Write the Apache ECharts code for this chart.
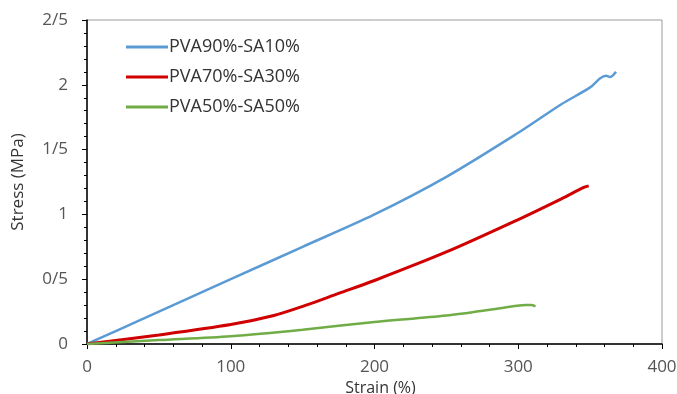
<!DOCTYPE html>
<html>
<head>
<meta charset="utf-8">
<script src="https://cdn.jsdelivr.net/npm/echarts@6/dist/echarts.min.js"></script>
<style>
  html, body { margin: 0; padding: 0; background: #fff; }
  #chart { width: 677px; height: 394px; }
</style>
</head>
<body>
<div id="chart"></div>
<script>
const seriesNames = ["PVA90%-SA10%", "PVA70%-SA30%", "PVA50%-SA50%"];

// [strain %, stress MPa]
const pva90 = [
  [0, 0], [20, 0.1], [50, 0.25], [100, 0.5], [150, 0.75], [200, 1.0],
  [250, 1.29], [300, 1.63], [330, 1.85], [350, 1.98], [357, 2.05],
  [361, 2.07], [364, 2.06], [368, 2.1]
];
const pva70 = [
  [0, 0], [50, 0.07], [100, 0.15], [130, 0.22], [150, 0.29], [175, 0.39],
  [200, 0.49], [250, 0.71], [300, 0.96], [330, 1.12], [346, 1.21], [349, 1.22]
];
const pva50 = [
  [0, 0], [50, 0.03], [100, 0.06], [150, 0.11], [200, 0.17], [250, 0.22],
  [290, 0.28], [305, 0.3], [309, 0.3], [312, 0.29]
];

const colors = ["#5B9BD5", "#D00000", "#70AD47"];
const widths = [2.5, 3, 2.5];

const chart = echarts.init(document.getElementById("chart"));
const font = "'Open Sans', 'Liberation Sans', sans-serif";

chart.setOption({
  animation: false,
  backgroundColor: "#fff",
  grid: {
    left: 87, right: 15, top: 20, bottom: 50,
    containLabel: false,
    outerBoundsMode: "none",
    show: true, borderColor: "#9a9a9a", borderWidth: 1
  },
  legend: {
    data: seriesNames,
    orient: "vertical",
    left: 121, top: 33,
    itemWidth: 42, itemHeight: 3, itemGap: 12,
    icon: "rect",
    textStyle: { fontFamily: font, fontSize: 18, color: "#333", padding: [0, 0, 0, -4] }
  },
  xAxis: {
    type: "value",
    min: 0, max: 400, interval: 100,
    name: "Strain (%)",
    nameLocation: "middle",
    nameGap: 35,
    nameTextStyle: { fontFamily: font, fontSize: 16, color: "#333", padding: [0, 0, 0, 12] },
    axisLine: { lineStyle: { color: "#000", width: 1.5 } },
    axisTick: { show: true, length: 5, lineStyle: { color: "#000" } },
    minorTick: { show: true, splitNumber: 5, length: 3, lineStyle: { color: "#000" } },
    splitLine: { show: false },
    axisLabel: { fontFamily: font, fontSize: 17, color: "#555", margin: 15 }
  },
  yAxis: {
    type: "value",
    min: 0, max: 2.5, interval: 0.5,
    name: "Stress (MPa)",
    nameLocation: "middle",
    nameGap: 60,
    nameTextStyle: { fontFamily: font, fontSize: 17, color: "#333" },
    axisLine: { show: true, lineStyle: { color: "#000", width: 1.5 } },
    axisTick: { show: true, length: 5, lineStyle: { color: "#000" } },
    minorTick: { show: true, splitNumber: 5, length: 3, lineStyle: { color: "#000" } },
    splitLine: { show: false },
    axisLabel: {
      fontFamily: font, fontSize: 17, color: "#555", margin: 19,
      formatter: v => String(v).replace(".", "/")
    }
  },
  series: [pva90, pva70, pva50].map((d, i) => ({
    name: seriesNames[i],
    type: "line",
    data: d,
    smooth: 0.3,
    showSymbol: false,
    color: colors[i],
    lineStyle: { color: colors[i], width: widths[i] }
  }))
});
</script>
</body>
</html>
